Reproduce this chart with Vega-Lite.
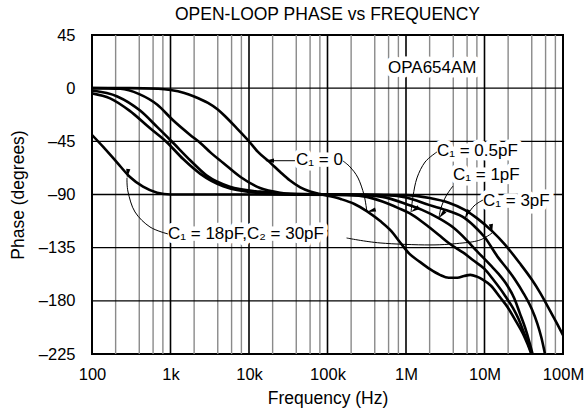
{
  "$schema": "https://vega.github.io/schema/vega-lite/v6.json",
  "width": 471,
  "height": 319,
  "autosize": {"type": "none"},
  "padding": {"left": 92, "top": 35, "right": 24, "bottom": 63},
  "background": "white",
  "config": {
    "view": {"stroke": "black", "strokeWidth": 2},
    "font": "Liberation Sans",
    "axis": {"grid": false, "ticks": false, "domain": false, "labelOverlap": false, "labelFlush": false, "labelFontSize": 16.5, "labelColor": "black", "labelFont": "Liberation Sans", "titleFontSize": 17.5, "titleFontWeight": "normal", "titleColor": "black", "titleFont": "Liberation Sans"},
    "axisX": {"labelPadding": 12, "titlePadding": 7},
    "axisY": {"labelPadding": 17, "titlePadding": 11}
  },
  "title": {"text": "OPEN-LOOP PHASE vs FREQUENCY", "fontSize": 17.5, "fontWeight": "normal", "font": "Liberation Sans", "color": "black", "anchor": "middle", "offset": 4},
  "datasets": {
    "minor": [
      {"f":200},{"f":400},{"f":600},{"f":800},
      {"f":2000},{"f":4000},{"f":6000},{"f":8000},
      {"f":20000},{"f":40000},{"f":60000},{"f":80000},
      {"f":200000},{"f":400000},{"f":600000},{"f":800000},
      {"f":2000000},{"f":4000000},{"f":6000000},{"f":8000000},
      {"f":20000000},{"f":40000000},{"f":60000000},{"f":80000000}
    ],
    "major": [{"f":1000},{"f":10000},{"f":100000},{"f":1000000},{"f":10000000}],
    "hgrid": [{"p":0},{"p":-45},{"p":-90},{"p":-135},{"p":-180}],
    "curves": [
      {"c":"A","f":100,"p":0},{"c":"A","f":300,"p":0},{"c":"A","f":700,"p":-0.5},{"c":"A","f":1000,"p":-1.5},{"c":"A","f":1500,"p":-4},{"c":"A","f":2000,"p":-7},{"c":"A","f":3000,"p":-12.5},{"c":"A","f":4000,"p":-18},{"c":"A","f":5000,"p":-24},{"c":"A","f":7000,"p":-34},{"c":"A","f":10000,"p":-45},{"c":"A","f":13000,"p":-54},{"c":"A","f":18600,"p":-63},{"c":"A","f":25000,"p":-71},{"c":"A","f":33000,"p":-78},{"c":"A","f":45000,"p":-84},{"c":"A","f":60000,"p":-87.5},{"c":"A","f":80000,"p":-89.5},{"c":"A","f":100000,"p":-91},{"c":"A","f":150000,"p":-94},{"c":"A","f":220000,"p":-98},{"c":"A","f":316000,"p":-104},{"c":"A","f":470000,"p":-112.5},{"c":"A","f":650000,"p":-121},{"c":"A","f":830000,"p":-130},{"c":"A","f":1100000,"p":-140},{"c":"A","f":1500000,"p":-147},{"c":"A","f":2000000,"p":-153},{"c":"A","f":2700000,"p":-158},{"c":"A","f":3500000,"p":-160.5},{"c":"A","f":4500000,"p":-160.5},{"c":"A","f":5500000,"p":-159},{"c":"A","f":6600000,"p":-158},{"c":"A","f":8000000,"p":-159.5},{"c":"A","f":9500000,"p":-162},{"c":"A","f":12000000,"p":-167},{"c":"A","f":15800000,"p":-177},{"c":"A","f":20000000,"p":-186},{"c":"A","f":25000000,"p":-197},{"c":"A","f":31000000,"p":-208},{"c":"A","f":35000000,"p":-216},{"c":"A","f":39500000,"p":-225},
      {"c":"B","f":100,"p":0},{"c":"B","f":230,"p":-0.5},{"c":"B","f":400,"p":-5},{"c":"B","f":680,"p":-14},{"c":"B","f":1070,"p":-27},{"c":"B","f":1780,"p":-39.6},{"c":"B","f":2400,"p":-46.4},{"c":"B","f":3300,"p":-55},{"c":"B","f":4700,"p":-63.3},{"c":"B","f":7800,"p":-75.2},{"c":"B","f":13800,"p":-84.5},{"c":"B","f":25000,"p":-88.5},{"c":"B","f":50000,"p":-90},{"c":"B","f":200000,"p":-90.5},{"c":"B","f":316000,"p":-92},{"c":"B","f":500000,"p":-96},{"c":"B","f":800000,"p":-101.5},{"c":"B","f":1120000,"p":-106},{"c":"B","f":1600000,"p":-113},{"c":"B","f":2000000,"p":-118},{"c":"B","f":2600000,"p":-124},{"c":"B","f":3500000,"p":-131},{"c":"B","f":4500000,"p":-136},{"c":"B","f":5600000,"p":-140},{"c":"B","f":7100000,"p":-145.5},{"c":"B","f":10000000,"p":-153},{"c":"B","f":12900000,"p":-162},{"c":"B","f":18000000,"p":-175},{"c":"B","f":23000000,"p":-186},{"c":"B","f":27000000,"p":-195},{"c":"B","f":31000000,"p":-205},{"c":"B","f":35000000,"p":-214},{"c":"B","f":40000000,"p":-225},
      {"c":"C","f":100,"p":-2},{"c":"C","f":210,"p":-7},{"c":"C","f":410,"p":-19},{"c":"C","f":680,"p":-33},{"c":"C","f":1070,"p":-46},{"c":"C","f":1780,"p":-61},{"c":"C","f":2900,"p":-74},{"c":"C","f":5700,"p":-83.4},{"c":"C","f":13800,"p":-87.6},{"c":"C","f":30000,"p":-89.5},{"c":"C","f":100000,"p":-90},{"c":"C","f":300000,"p":-90.5},{"c":"C","f":500000,"p":-92},{"c":"C","f":1000000,"p":-98},{"c":"C","f":1600000,"p":-103},{"c":"C","f":2600000,"p":-110},{"c":"C","f":4000000,"p":-118},{"c":"C","f":6000000,"p":-129},{"c":"C","f":8000000,"p":-138},{"c":"C","f":9500000,"p":-143},{"c":"C","f":12000000,"p":-150},{"c":"C","f":15000000,"p":-157},{"c":"C","f":19500000,"p":-167},{"c":"C","f":24000000,"p":-178},{"c":"C","f":28000000,"p":-190},{"c":"C","f":33000000,"p":-203},{"c":"C","f":37000000,"p":-214},{"c":"C","f":41000000,"p":-225},
      {"c":"D","f":100,"p":-4.4},{"c":"D","f":170,"p":-8.6},{"c":"D","f":300,"p":-19},{"c":"D","f":550,"p":-34},{"c":"D","f":890,"p":-45.5},{"c":"D","f":1450,"p":-60},{"c":"D","f":2400,"p":-72.5},{"c":"D","f":4700,"p":-83},{"c":"D","f":12600,"p":-88.5},{"c":"D","f":30000,"p":-89.7},{"c":"D","f":300000,"p":-90},{"c":"D","f":600000,"p":-90.5},{"c":"D","f":1000000,"p":-92.5},{"c":"D","f":2000000,"p":-99},{"c":"D","f":3500000,"p":-104},{"c":"D","f":5600000,"p":-110},{"c":"D","f":8000000,"p":-119},{"c":"D","f":10000000,"p":-126},{"c":"D","f":14800000,"p":-143},{"c":"D","f":20000000,"p":-154},{"c":"D","f":25000000,"p":-163},{"c":"D","f":31000000,"p":-173},{"c":"D","f":40000000,"p":-187},{"c":"D","f":47000000,"p":-199},{"c":"D","f":53000000,"p":-211},{"c":"D","f":59000000,"p":-225},
      {"c":"E","f":100,"p":-39.6},{"c":"E","f":138,"p":-49.5},{"c":"E","f":209,"p":-63},{"c":"E","f":302,"p":-75},{"c":"E","f":447,"p":-83.4},{"c":"E","f":676,"p":-88.5},{"c":"E","f":1000,"p":-90},{"c":"E","f":10000,"p":-90},{"c":"E","f":1000000,"p":-90.5},{"c":"E","f":2000000,"p":-93},{"c":"E","f":3500000,"p":-97},{"c":"E","f":5600000,"p":-103},{"c":"E","f":8000000,"p":-110},{"c":"E","f":12500000,"p":-121},{"c":"E","f":18000000,"p":-132},{"c":"E","f":28000000,"p":-148},{"c":"E","f":40000000,"p":-162},{"c":"E","f":51000000,"p":-173},{"c":"E","f":68000000,"p":-188},{"c":"E","f":85000000,"p":-200},{"c":"E","f":100000000,"p":-209}
    ],
    "leaders": [
      {"l":"L1","o":1,"f":38500,"p":-61.4},{"l":"L1","o":2,"f":16500,"p":-61.4},
      {"l":"L2","o":1,"f":157000,"p":-61.6},{"l":"L2","o":2,"f":194000,"p":-66.7},{"l":"L2","o":3,"f":245000,"p":-76},{"l":"L2","o":4,"f":292000,"p":-90.4},{"l":"L2","o":5,"f":318000,"p":-104.8},
      {"l":"L3","o":1,"f":2480000,"p":-54},{"l":"L3","o":2,"f":1750000,"p":-62.5},{"l":"L3","o":3,"f":1380000,"p":-76},{"l":"L3","o":4,"f":1230000,"p":-91.3},{"l":"L3","o":5,"f":1160000,"p":-104.8},
      {"l":"L4","o":1,"f":3970000,"p":-82.8},{"l":"L4","o":2,"f":3240000,"p":-91.3},{"l":"L4","o":3,"f":2790000,"p":-101.4},{"l":"L4","o":4,"f":2630000,"p":-109.9},
      {"l":"L5","o":1,"f":9570000,"p":-94.7},{"l":"L5","o":2,"f":7350000,"p":-99.7},{"l":"L5","o":3,"f":5650000,"p":-109.9},
      {"l":"L6","o":1,"f":929,"p":-123.4},{"l":"L6","o":2,"f":548,"p":-117.5},{"l":"L6","o":3,"f":353,"p":-104.8},{"l":"L6","o":4,"f":288,"p":-87.9},{"l":"L6","o":5,"f":279,"p":-76},
      {"l":"L7","o":1,"f":175000,"p":-126.8},{"l":"L7","o":2,"f":467000,"p":-131},{"l":"L7","o":3,"f":2020000,"p":-132.7},{"l":"L7","o":4,"f":5320000,"p":-131},{"l":"L7","o":5,"f":8770000,"p":-128.5},{"l":"L7","o":6,"f":12500000,"p":-122.6}
    ],
    "tips": [
      {"l":"L1","f":16000,"p":-61.4},
      {"l":"L2","f":318000,"p":-104.8},
      {"l":"L3","f":1160000,"p":-104.8},
      {"l":"L4","f":2630000,"p":-109.9},
      {"l":"L5","f":5650000,"p":-109.9},
      {"l":"L6","f":279,"p":-76},
      {"l":"L7","f":12500000,"p":-122.6}
    ],
    "labels": [
      {"t":"OPA654AM","f":590000,"p":17},
      {"t":"C₁ = 0","f":39700,"p":-60.8},
      {"t":"C₁ = 0.5pF","f":2480000,"p":-53.2},
      {"t":"C₁ = 1pF","f":3970000,"p":-73.5},
      {"t":"C₁ = 3pF","f":9570000,"p":-95.5},
      {"t":"C₁  = 18pF,C₂  = 30pF","f":929,"p":-123.4}
    ]
  },
  "layer": [
    {
      "data": {"name": "minor"},
      "mark": {"type": "rule", "color": "#8a8a8a", "strokeWidth": 1.4},
      "encoding": {
        "x": {"field": "f", "type": "quantitative", "scale": {"type": "log", "domain": [100, 100000000], "nice": false},
          "axis": {"values": [100,1000,10000,100000,1000000,10000000,100000000], "labelExpr": "datum.value == 100 ? '100' : datum.value == 1000 ? '1k' : datum.value == 10000 ? '10k' : datum.value == 100000 ? '100k' : datum.value == 1000000 ? '1M' : datum.value == 10000000 ? '10M' : '100M'", "title": "Frequency (Hz)"}}
      }
    },
    {
      "data": {"name": "major"},
      "mark": {"type": "rule", "color": "black", "strokeWidth": 1.6},
      "encoding": {
        "x": {"field": "f", "type": "quantitative", "scale": {"type": "log", "domain": [100, 100000000], "nice": false},
          "axis": {"values": [100,1000,10000,100000,1000000,10000000,100000000], "labelExpr": "datum.value == 100 ? '100' : datum.value == 1000 ? '1k' : datum.value == 10000 ? '10k' : datum.value == 100000 ? '100k' : datum.value == 1000000 ? '1M' : datum.value == 10000000 ? '10M' : '100M'", "title": "Frequency (Hz)"}}
      }
    },
    {
      "data": {"name": "hgrid"},
      "mark": {"type": "rule", "color": "black", "strokeWidth": 1.4},
      "encoding": {
        "y": {"field": "p", "type": "quantitative", "scale": {"domain": [-225, 45], "nice": false, "zero": false},
          "axis": {"values": [-225,-180,-135,-90,-45,0,45], "labelExpr": "datum.value < 0 ? '–' + (-datum.value) : '' + datum.value", "title": "Phase (degrees)"}}
      }
    },
    {
      "data": {"name": "labels"},
      "mark": {"type": "text", "align": "left", "baseline": "middle", "fontSize": 17, "font": "Liberation Sans", "fill": "white", "stroke": "white", "strokeWidth": 9, "strokeJoin": "round"},
      "encoding": {
        "x": {"field": "f", "type": "quantitative", "scale": {"type": "log", "domain": [100, 100000000], "nice": false},
          "axis": {"values": [100,1000,10000,100000,1000000,10000000,100000000], "labelExpr": "datum.value == 100 ? '100' : datum.value == 1000 ? '1k' : datum.value == 10000 ? '10k' : datum.value == 100000 ? '100k' : datum.value == 1000000 ? '1M' : datum.value == 10000000 ? '10M' : '100M'", "title": "Frequency (Hz)"}},
        "y": {"field": "p", "type": "quantitative", "scale": {"domain": [-225, 45], "nice": false, "zero": false},
          "axis": {"values": [-225,-180,-135,-90,-45,0,45], "labelExpr": "datum.value < 0 ? '–' + (-datum.value) : '' + datum.value", "title": "Phase (degrees)"}},
        "text": {"field": "t"}
      }
    },
    {
      "data": {"name": "curves"},
      "mark": {"type": "line", "color": "black", "strokeWidth": 2.6, "interpolate": "monotone", "clip": true},
      "encoding": {
        "x": {"field": "f", "type": "quantitative", "scale": {"type": "log", "domain": [100, 100000000], "nice": false},
          "axis": {"values": [100,1000,10000,100000,1000000,10000000,100000000], "labelExpr": "datum.value == 100 ? '100' : datum.value == 1000 ? '1k' : datum.value == 10000 ? '10k' : datum.value == 100000 ? '100k' : datum.value == 1000000 ? '1M' : datum.value == 10000000 ? '10M' : '100M'", "title": "Frequency (Hz)"}},
        "y": {"field": "p", "type": "quantitative", "scale": {"domain": [-225, 45], "nice": false, "zero": false},
          "axis": {"values": [-225,-180,-135,-90,-45,0,45], "labelExpr": "datum.value < 0 ? '–' + (-datum.value) : '' + datum.value", "title": "Phase (degrees)"}},
        "detail": {"field": "c"}
      }
    },
    {
      "data": {"name": "leaders"},
      "mark": {"type": "line", "color": "black", "strokeWidth": 1, "interpolate": "cardinal"},
      "encoding": {
        "x": {"field": "f", "type": "quantitative", "scale": {"type": "log", "domain": [100, 100000000], "nice": false},
          "axis": {"values": [100,1000,10000,100000,1000000,10000000,100000000], "labelExpr": "datum.value == 100 ? '100' : datum.value == 1000 ? '1k' : datum.value == 10000 ? '10k' : datum.value == 100000 ? '100k' : datum.value == 1000000 ? '1M' : datum.value == 10000000 ? '10M' : '100M'", "title": "Frequency (Hz)"}},
        "y": {"field": "p", "type": "quantitative", "scale": {"domain": [-225, 45], "nice": false, "zero": false},
          "axis": {"values": [-225,-180,-135,-90,-45,0,45], "labelExpr": "datum.value < 0 ? '–' + (-datum.value) : '' + datum.value", "title": "Phase (degrees)"}},
        "detail": {"field": "l"}, "order": {"field": "o"}
      }
    },
    {
      "data": {"name": "tips"},
      "mark": {"type": "point", "shape": "M0,0L0.7,3L-0.7,3Z", "filled": true, "color": "black", "size": 36, "opacity": 1},
      "encoding": {
        "x": {"field": "f", "type": "quantitative", "scale": {"type": "log", "domain": [100, 100000000], "nice": false},
          "axis": {"values": [100,1000,10000,100000,1000000,10000000,100000000], "labelExpr": "datum.value == 100 ? '100' : datum.value == 1000 ? '1k' : datum.value == 10000 ? '10k' : datum.value == 100000 ? '100k' : datum.value == 1000000 ? '1M' : datum.value == 10000000 ? '10M' : '100M'", "title": "Frequency (Hz)"}},
        "y": {"field": "p", "type": "quantitative", "scale": {"domain": [-225, 45], "nice": false, "zero": false},
          "axis": {"values": [-225,-180,-135,-90,-45,0,45], "labelExpr": "datum.value < 0 ? '–' + (-datum.value) : '' + datum.value", "title": "Phase (degrees)"}},
        "angle": {"field": "l", "type": "nominal", "scale": {"domain": ["L1","L2","L3","L4","L5","L6","L7"], "range": [270,172,188,194,216,354,60]}, "legend": null}
      }
    },
    {
      "data": {"name": "labels"},
      "mark": {"type": "text", "align": "left", "baseline": "middle", "fontSize": 17, "font": "Liberation Sans", "color": "black"},
      "encoding": {
        "x": {"field": "f", "type": "quantitative", "scale": {"type": "log", "domain": [100, 100000000], "nice": false},
          "axis": {"values": [100,1000,10000,100000,1000000,10000000,100000000], "labelExpr": "datum.value == 100 ? '100' : datum.value == 1000 ? '1k' : datum.value == 10000 ? '10k' : datum.value == 100000 ? '100k' : datum.value == 1000000 ? '1M' : datum.value == 10000000 ? '10M' : '100M'", "title": "Frequency (Hz)"}},
        "y": {"field": "p", "type": "quantitative", "scale": {"domain": [-225, 45], "nice": false, "zero": false},
          "axis": {"values": [-225,-180,-135,-90,-45,0,45], "labelExpr": "datum.value < 0 ? '–' + (-datum.value) : '' + datum.value", "title": "Phase (degrees)"}},
        "text": {"field": "t"}
      }
    }
  ]
}
